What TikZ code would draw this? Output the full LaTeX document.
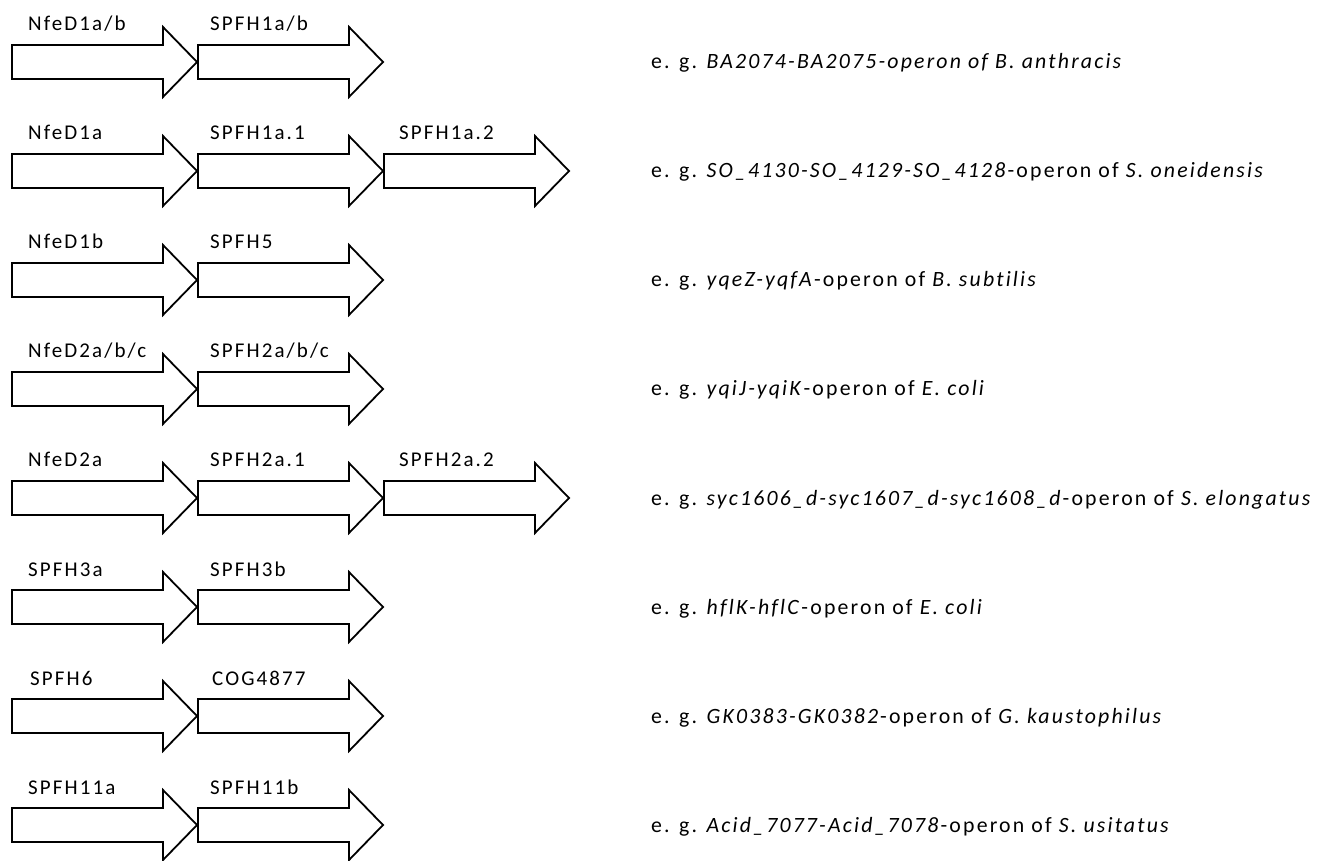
\documentclass[tikz,border=0pt]{standalone}
\usepackage{fontspec}
\setmainfont{Carlito}
\newfontfamily\labfont[LetterSpace=10]{Carlito}
\newfontfamily\exfont[LetterSpace=10,Ligatures=NoCommon]{Carlito}
\tikzset{
  gene/.style={draw=black, line width=1.8pt, fill=white, line join=miter},
  genelabel/.style={anchor=base west, inner sep=0pt, font=\labfont\fontsize{21}{25}\selectfont},
  example/.style={anchor=base west, inner sep=0pt, font=\exfont\fontsize{21.8}{26}\selectfont},
}
\newcommand{\genearrow}[3]{% name, left x (px), center y (px)
  \draw[gene] (#2pt,{(860-#3+17)*1pt}) -- ++(151pt,0) -- ++(0,18pt) -- ++(34pt,-35pt) -- ++(-34pt,-35pt) -- ++(0,18pt) -- ++(-151pt,0) -- cycle;
  \coordinate (#1) at ({(#2+92)*1pt},{(860-#3)*1pt});
}
\begin{document}
\begin{tikzpicture}[x=1pt,y=1pt]
\useasboundingbox (0,0) rectangle (1321,860);
% rows
\foreach \r/\yc in {1/62,2/171,3/280,4/389,5/498,6/607,7/716,8/825}{
  \genearrow{a\r}{12}{\yc}
  \genearrow{b\r}{198}{\yc}
}
\genearrow{c2}{384}{171}
\genearrow{c5}{384}{498}
% labels
\node[genelabel] (l1a) at (28,{860-62+31}) {NfeD1a/b};
\node[genelabel] (l1b) at (210,{860-62+31}) {SPFH1a/b};
\node[genelabel] (l2a) at (28,{860-171+31}) {NfeD1a};
\node[genelabel] (l2b) at (210,{860-171+31}) {SPFH1a.1};
\node[genelabel] (l2c) at (399,{860-171+31}) {SPFH1a.2};
\node[genelabel] (l3a) at (28,{860-280+31}) {NfeD1b};
\node[genelabel] (l3b) at (210,{860-280+31}) {SPFH5};
\node[genelabel] (l4a) at (28,{860-389+31}) {NfeD2a/b/c};
\node[genelabel] (l4b) at (210,{860-389+31}) {SPFH2a/b/c};
\node[genelabel] (l5a) at (28,{860-498+31}) {NfeD2a};
\node[genelabel] (l5b) at (210,{860-498+31}) {SPFH2a.1};
\node[genelabel] (l5c) at (399,{860-498+31}) {SPFH2a.2};
\node[genelabel] (l6a) at (28,{860-607+31}) {SPFH3a};
\node[genelabel] (l6b) at (210,{860-607+31}) {SPFH3b};
\node[genelabel] (l7a) at (30,{860-716+31}) {SPFH6};
\node[genelabel] (l7b) at (212,{860-716+31}) {COG4877};
\node[genelabel] (l8a) at (28,{860-825+31}) {SPFH11a};
\node[genelabel] (l8b) at (210,{860-825+31}) {SPFH11b};
% examples
\node[example] (e1) at (651,{860-62-7}) {e. g. \textit{BA2074-BA2075-operon of B. anthracis}};
\node[example] (e2) at (651,{860-171-7}) {e. g. \textit{SO\_4130-SO\_4129-SO\_4128}-operon of \textit{S. oneidensis}};
\node[example] (e3) at (651,{860-280-7}) {e. g. \textit{yqeZ-yqfA}-operon of \textit{B. subtilis}};
\node[example] (e4) at (651,{860-389-7}) {e. g. \textit{yqiJ-yqiK}-operon of \textit{E. coli}};
\node[example] (e5) at (651,{860-498-7}) {e. g. \textit{syc1606\_d-syc1607\_d-syc1608\_d}-operon of \textit{S. elongatus}};
\node[example] (e6) at (651,{860-607-7}) {e. g. \textit{hflK-hflC}-operon of \textit{E. coli}};
\node[example] (e7) at (651,{860-716-7}) {e. g. \textit{GK0383-GK0382}-operon of \textit{G. kaustophilus}};
\node[example] (e8) at (651,{860-825-7}) {e. g. \textit{Acid\_7077-Acid\_7078}-operon of \textit{S. usitatus}};
\end{tikzpicture}
\end{document}
